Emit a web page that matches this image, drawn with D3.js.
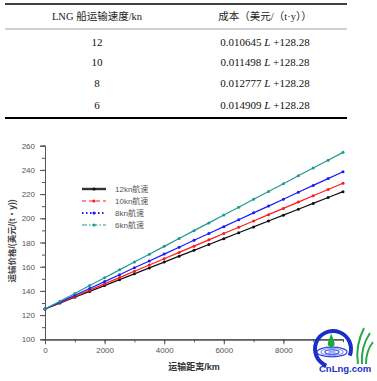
<!DOCTYPE html>
<html>
<head>
<meta charset="utf-8">
<script src="https://cdn.jsdelivr.net/npm/d3@7"></script>
<style>
  body { margin: 0; background: #fff; }
  svg { display: block; }
</style>
</head>
<body>
<svg id="chart" width="377" height="381"></svg>
<script>
// 表格数据
const tableHeader = ["LNG 船运输速度/kn", "成本（美元/（t·y））"];
const tableSpeeds = ["12", "10", "8", "6"];
const tableCoef = ["0.010645", "0.011498", "0.012777", "0.014909"];
const tableConst = "+128.28";

// 图表数据 (运输距离 km, 每500km一点)
const distances = [0, 500, 1000, 1500, 2000, 2500, 3000, 3500, 4000, 4500, 5000,
  5500, 6000, 6500, 7000, 7500, 8000, 8500, 9000, 9500, 10000];
const seriesNames = ["12kn航速", "10kn航速", "8kn航速", "6kn航速"];
const price12 = [125.0, 129.9, 134.7, 139.6, 144.4, 149.3, 154.1, 159.0, 163.8, 168.7, 173.5,
  178.4, 183.2, 188.1, 192.9, 197.8, 202.6, 207.5, 212.3, 217.2, 222.0];
const price10 = [125.0, 130.2, 135.4, 140.6, 145.8, 151.0, 156.2, 161.4, 166.6, 171.8, 177.0,
  182.2, 187.4, 192.6, 197.8, 203.0, 208.2, 213.4, 218.6, 223.8, 229.0];
const price8 = [125.0, 130.7, 136.4, 142.0, 147.7, 153.4, 159.1, 164.7, 170.4, 176.1, 181.8,
  187.4, 193.1, 198.8, 204.5, 210.1, 215.8, 221.5, 227.2, 232.8, 238.5];
const price6 = [125.0, 131.5, 137.9, 144.4, 150.9, 157.4, 163.9, 170.3, 176.8, 183.3, 189.8,
  196.2, 202.7, 209.2, 215.7, 222.1, 228.6, 235.1, 241.6, 248.0, 254.5];
const yTicks = [100, 120, 140, 160, 180, 200, 220, 240, 260];
const xTicks = [0, 2000, 4000, 6000, 8000];

const svg = d3.select("#chart");

// ---- 表格 ----
const serif = "'Liberation Serif', 'Times New Roman', 'Noto Sans CJK SC', serif";
const colX = [97, 265];
const tb = svg.append("g");
tb.append("line").attr("x1", 5).attr("x2", 347).attr("y1", 4).attr("y2", 4)
  .attr("stroke", "#000").attr("stroke-width", 1.6);
tb.append("line").attr("x1", 5).attr("x2", 347).attr("y1", 29).attr("y2", 29)
  .attr("stroke", "#999").attr("stroke-width", 0.9);
tb.append("line").attr("x1", 5).attr("x2", 347).attr("y1", 118).attr("y2", 118)
  .attr("stroke", "#000").attr("stroke-width", 2.2);

tableHeader.forEach((h, i) => {
  tb.append("text").attr("x", colX[i]).attr("y", 20)
    .attr("text-anchor", "middle")
    .style("font-family", serif).style("font-size", "10.5px").style("fill", "#222")
    .text(h);
});
const rowY = [46, 66, 87, 109];
tableSpeeds.forEach((s, i) => {
  tb.append("text").attr("x", colX[0]).attr("y", rowY[i])
    .attr("text-anchor", "middle")
    .style("font-family", serif).style("font-size", "11px").style("fill", "#111")
    .text(s);
  const t = tb.append("text").attr("x", colX[1]).attr("y", rowY[i])
    .attr("text-anchor", "middle")
    .style("font-family", serif).style("font-size", "11px").style("fill", "#111");
  t.append("tspan").text(tableCoef[i] + " ");
  t.append("tspan").style("font-style", "italic").text("L");
  t.append("tspan").text(" " + tableConst);
});

// ---- 折线图 ----
const x = d3.scaleLinear().domain([0, 10000]).range([45, 343]);
const y = d3.scaleLinear().domain([100, 260]).range([339.3, 145.7]);
const sans = "'Liberation Sans', Arial, 'Noto Sans CJK SC', sans-serif";
const axisColor = "#555";

// Y 轴
const gy = svg.append("g").attr("transform", "translate(45,0)");
gy.call(d3.axisLeft(y).tickValues(d3.range(100, 261, 10)).tickSize(3).tickFormat(""));
gy.append("g").call(d3.axisLeft(y).tickValues(yTicks).tickSize(5).tickPadding(5).tickFormat(d3.format("d")));
gy.selectAll("path.domain").attr("stroke", axisColor);
gy.selectAll(".tick line").attr("stroke", axisColor);
gy.selectAll(".tick text").style("font-family", sans).style("font-size", "8px").style("fill", "#555");

// X 轴
const gx = svg.append("g").attr("transform", "translate(0,339.3)");
gx.call(d3.axisBottom(x).tickValues(d3.range(0, 10001, 1000)).tickSize(3).tickFormat("").tickSizeOuter(0));
gx.append("g").call(d3.axisBottom(x).tickValues(xTicks).tickSize(5).tickPadding(3).tickFormat(d3.format("d")).tickSizeOuter(0));
gx.selectAll("path.domain").attr("stroke", axisColor).attr("stroke-width", 1.2);
gx.selectAll(".tick line").attr("stroke", axisColor);
gx.selectAll(".tick text").style("font-family", sans).style("font-size", "8px").style("fill", "#555");

// 轴标题
svg.append("text")
  .attr("transform", "translate(15,241) rotate(-90)")
  .attr("text-anchor", "middle")
  .style("font-family", sans).style("font-size", "8.5px").style("font-weight", "bold").style("fill", "#444")
  .text("运输价格/(美元/(t・y))");
svg.append("text")
  .attr("x", 194).attr("y", 370)
  .attr("text-anchor", "middle")
  .style("font-family", sans).style("font-size", "9px").style("font-weight", "bold").style("fill", "#333")
  .text("运输距离/km");

// 系列
const colors = ["#111111", "#ff1a1a", "#1a1aff", "#1f9990"];
const allSeries = [price12, price10, price8, price6];
const dashes = [null, "4,3", "1.5,2.5", "5,2,1.5,2"];
const line = d3.line().x(d => x(d[0])).y(d => y(d[1]));

allSeries.forEach((vals, i) => {
  const pts = distances.map((d, j) => [d, vals[j]]);
  svg.append("path").datum(pts)
    .attr("fill", "none").attr("stroke", colors[i]).attr("stroke-width", 1.2)
    .attr("d", line);
  svg.append("g").selectAll("circle").data(pts).join("circle")
    .attr("cx", d => x(d[0])).attr("cy", d => y(d[1])).attr("r", 1.5)
    .attr("fill", colors[i]);
});

// 图例
const legY = [189, 201, 213, 225];
const legend = svg.append("g");
seriesNames.forEach((name, i) => {
  legend.append("line").attr("x1", 82).attr("x2", 106).attr("y1", legY[i]).attr("y2", legY[i])
    .attr("stroke", i === 0 ? "#333" : colors[i])
    .attr("stroke-width", i === 0 ? 2.4 : (i === 2 ? 1.8 : 1.2))
    .attr("stroke-dasharray", dashes[i]);
  legend.append("circle").attr("cx", 94).attr("cy", legY[i]).attr("r", 1.6).attr("fill", colors[i]);
  legend.append("text").attr("x", 115).attr("y", legY[i]).attr("dy", "0.35em")
    .style("font-family", sans).style("font-size", "8px").style("fill", "#555")
    .text(name);
});

// 水印 logo
const logo = svg.append("g");
logo.append("path")
  .attr("d", d3.arc()({innerRadius: 16, outerRadius: 20, startAngle: -Math.PI * 0.88, endAngle: Math.PI * 0.62}))
  .attr("transform", "translate(333,349)").attr("fill", "#1a2fc8");
[15, 11, 7, 3].forEach((r, i) => {
  logo.append("ellipse").attr("cx", 332).attr("cy", 352).attr("rx", r).attr("ry", r * 0.32)
    .attr("fill", "none").attr("stroke", i % 2 ? "#8fa0ff" : "#3344dd").attr("stroke-width", 1.2);
});
logo.append("path")
  .attr("d", "M331,333 C333,339 336,343 334,346 C332,348 329,347 328,345 C327,342 330,339 331,333 Z")
  .attr("fill", "#19a83a");
["M358,364 C356,352 358,340 364,328", "M362,364 C361,352 364,342 370,333", "M366,364 C366,355 369,347 373,342"]
  .forEach(p => logo.append("path").attr("d", p).attr("fill", "none").attr("stroke", "#2aa84a").attr("stroke-width", 2));
logo.append("text").attr("x", 319).attr("y", 372)
  .style("font-family", sans).style("font-size", "9.5px").style("font-weight", "bold").style("fill", "#1a2fc8")
  .text("CnLng.com");
</script>
</body>
</html>
